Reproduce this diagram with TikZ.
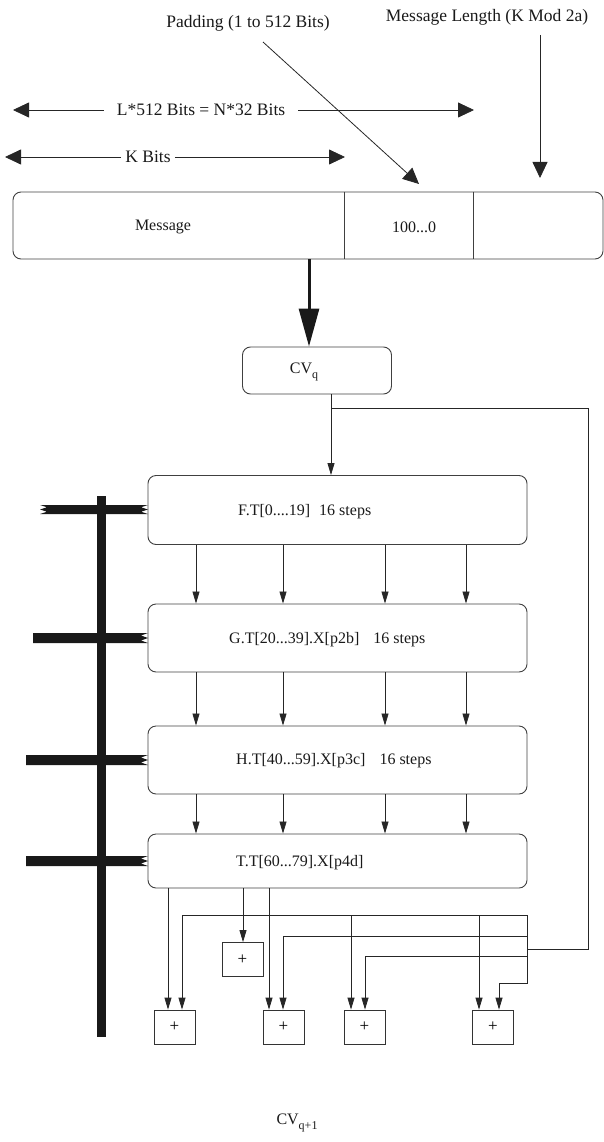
\documentclass[tikz,border=0pt]{standalone}
\usepackage{fontspec}
\setmainfont{Liberation Serif}
\usetikzlibrary{arrows.meta,calc}
\begin{document}
\begin{tikzpicture}[x=1pt,y=-1pt,
  box/.style={draw=black!75, line width=0.9pt, rounded corners=8pt, inner sep=0pt},
  txt/.style={font=\fontsize{16}{19}\selectfont, text=black!90, inner sep=0pt},
  lbl/.style={font=\fontsize{17.5}{21}\selectfont, text=black!90},
  arr/.style={draw=black!85, line width=0.8pt, -{Triangle[length=12pt,width=7pt]}},
  bigarr/.style={draw=black!85, line width=0.8pt, -{Triangle[length=16pt,width=15pt]}},
  plain/.style={draw=black!85, line width=0.8pt},
  bus/.style={fill=black!90},
  adder/.style={draw=black!80, line width=0.8pt, minimum width=41pt, minimum height=34pt, inner sep=0pt, font=\fontsize{17}{19}\selectfont}
]
\useasboundingbox (0,0) rectangle (604,1142);

% top labels
\node[lbl] (padl) at (248,23) {Padding (1 to 512 Bits)};
\node[lbl] (lenl) at (487,17) {Message Length (K Mod 2a)};
\coordinate (pads) at (263,42);
\coordinate (padt) at (419,184);
\draw[bigarr] (pads) -- (padt);
\coordinate (lens) at (540,35);
\coordinate (lent) at (540,178);
\draw[bigarr] (lens) -- (lent);

\node[lbl, inner xsep=13pt] (ll) at (201,110) {L*512 Bits = N*32 Bits};
\coordinate (llL) at (13,110);
\coordinate (llR) at (474,110);
\draw[bigarr] (ll.west) -- (llL);
\draw[bigarr] (ll.east) -- (llR);
\node[lbl, inner xsep=4pt] (kb) at (148,157) {K Bits};
\coordinate (kbL) at (5,157);
\coordinate (kbR) at (345,157);
\draw[bigarr] (kb.west) -- (kbL);
\draw[bigarr] (kb.east) -- (kbR);

% message box
\node[box, minimum width=590pt, minimum height=67pt] (msg) at (308,225.5) {};
\coordinate (d1) at (344,0);
\coordinate (d2) at (473,0);
\draw[draw=black!75, line width=0.9pt] (d1 |- msg.north) -- (d1 |- msg.south);
\draw[draw=black!75, line width=0.9pt] (d2 |- msg.north) -- (d2 |- msg.south);
\node[txt] (msgt) at (163,227) {Message};
\node[txt] (padt0) at (414,227) {100...0};

% CVq
\node[box, minimum width=149pt, minimum height=47pt] (cvq) at (317,370.5) {};
\node[txt] (cvqt) at (304,372) {CV\raisebox{-0.6ex}{\fontsize{12}{12}\selectfont q}};
\coordinate (ta) at (309,0);
\draw[draw=black!90, line width=3pt, -{Triangle[length=38pt,width=20pt]}] (ta |- msg.south) -- (ta |- cvq.north);

% stage boxes
\node[box, minimum width=379pt, minimum height=69pt] (F) at (337.5,510) {};
\node[box, minimum width=379pt, minimum height=68pt] (G) at (337.5,638) {};
\node[box, minimum width=379pt, minimum height=68pt] (H) at (337.5,760) {};
\node[box, minimum width=379pt, minimum height=54pt] (T) at (337.5,861) {};
\node[txt, anchor=west] (Ft) at (238,512) {F.T[0....19]\hspace{9pt}16 steps};
\node[txt, anchor=west] (Gt) at (229,640) {G.T[20...39].X[p2b]\hspace{14pt}16 steps};
\node[txt, anchor=west] (Ht) at (236,761) {H.T[40...59].X[p3c]\hspace{14pt}16 steps};
\node[txt, anchor=west] (Tt) at (236,863) {T.T[60...79].X[p4d]};

% CVq to F and feedback
\coordinate (cx) at (331,0);
\draw[arr] (cx |- cvq.south) -- (cx |- F.north);
\coordinate (br) at (331,408);
\coordinate (fb1) at (588,408);
\coordinate (fb2) at (588,949);
\coordinate (jn) at (527,949);
\draw[plain] (br) -- (fb1) -- (fb2) -- (jn);

% stage arrows
\foreach \xx in {196,283,385,466}{
  \coordinate (sx) at (\xx,0);
  \draw[arr] (sx |- F.south) -- (sx |- G.north);
  \draw[arr] (sx |- G.south) -- (sx |- H.north);
  \draw[arr] (sx |- H.south) -- (sx |- T.north);
}

% bus bars
\fill[bus] (97,496) rectangle (106,1037);
\fill[bus] (40,505) -- (148,505) -- (141,507.25) -- (148,509.5) -- (141,511.75) -- (148,514)
   -- (40,514) -- (47,511.75) -- (40,509.5) -- (47,507.25) -- cycle;
\fill[bus] (33,633) -- (148,633) -- (141,635.5) -- (148,638) -- (141,640.5) -- (148,643) -- (33,643) -- cycle;
\fill[bus] (26,755) -- (148,755) -- (141,757.5) -- (148,760) -- (141,762.5) -- (148,765) -- (26,765) -- cycle;
\fill[bus] (26,856) -- (148,856) -- (141,858.5) -- (148,861) -- (141,863.5) -- (148,866) -- (26,866) -- cycle;

% adders
\node[adder] (A0) at (242.5,959.5) {+};
\node[adder] (A1) at (174.5,1027) {+};
\node[adder] (A2) at (283.5,1027) {+};
\node[adder] (A3) at (364.5,1027) {+};
\node[adder] (A4) at (493,1027) {+};

% outputs of T
\coordinate (x168) at (168,0);
\coordinate (x243) at (243,0);
\coordinate (x269) at (269,0);
\draw[arr] (x168 |- T.south) -- (x168 |- A1.north);
\draw[arr] (x243 |- T.south) -- (x243 |- A0.north);
\draw[arr] (x269 |- T.south) -- (x269 |- A2.north);

% CVq distribution
\coordinate (h1a) at (182,915);
\coordinate (h1b) at (527,915);
\coordinate (h1c) at (351,915);
\coordinate (h1d) at (479,915);
\draw[plain] (h1b) -- (h1a);
\draw[arr] (h1a) -- (h1a |- A1.north);
\draw[arr] (h1c) -- (h1c |- A3.north);
\draw[arr] (h1d) -- (h1d |- A4.north);
\coordinate (v1) at (527,983);
\coordinate (v2) at (499,983);
\draw[arr] (h1b) -- (v1) -- (v2) -- (v2 |- A4.north);
\coordinate (h2a) at (527,936);
\coordinate (h2b) at (283,936);
\draw[arr] (h2a) -- (h2b) -- (h2b |- A2.north);
\coordinate (h3a) at (527,956);
\coordinate (h3b) at (365,956);
\draw[arr] (h3a) -- (h3b) -- (h3b |- A3.north);

% output label
\node[txt] (cvq1) at (297,1123) {CV\raisebox{-0.6ex}{\fontsize{12}{12}\selectfont q+1}};
\end{tikzpicture}
\end{document}
